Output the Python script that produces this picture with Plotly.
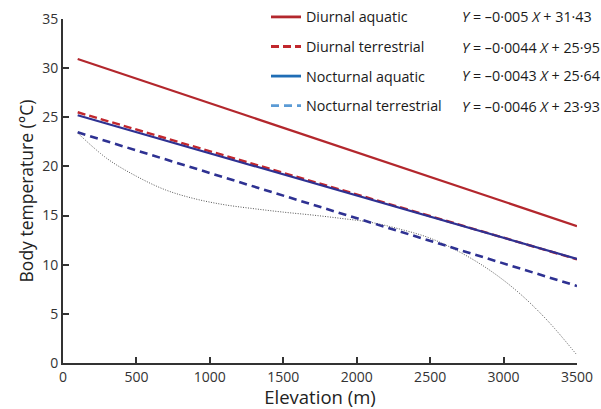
import plotly.graph_objects as go

# Regression fits: body temperature vs elevation
groups = ["Diurnal aquatic", "Diurnal terrestrial", "Nocturnal aquatic", "Nocturnal terrestrial"]
slopes = [-0.005, -0.0044, -0.0043, -0.0046]
intercepts = [31.43, 25.95, 25.64, 23.93]
equations = [
    "<i>Y</i> = \u20130\u00b7005 <i>X</i> + 31\u00b743",
    "<i>Y</i> = \u20130\u00b70044 <i>X</i> + 25\u00b795",
    "<i>Y</i> = \u20130\u00b70043 <i>X</i> + 25\u00b764",
    "<i>Y</i> = \u20130\u00b70046 <i>X</i> + 23\u00b793",
]
elev_range = [100, 3500]

# Ambient reference curve (dotted)
amb_elev = [100, 300, 500, 700, 900, 1100, 1300, 1500, 1700, 1900, 2100, 2300, 2500, 2700, 2900, 3100, 3300, 3500]
amb_temp = [23.4, 20.8, 19.0, 17.6, 16.7, 16.1, 15.7, 15.35, 15.05, 14.7, 14.3, 13.6, 12.7, 11.3, 9.5, 7.2, 4.3, 0.8]

x_ticks = [0, 500, 1000, 1500, 2000, 2500, 3000, 3500]
y_ticks = [0, 5, 10, 15, 20, 25, 30, 35]

plot_colors = ["#b3272d", "#c1272d", "#2e3192", "#2e3192"]
legend_colors = ["#b3272d", "#c1272d", "#1f6db5", "#5b9bd5"]
dashes = ["solid", "8px,4px", "solid", "8px,5px"]
widths = [2.2, 2.4, 2.2, 2.6]

FONT = "Open Sans, sans-serif"

fig = go.Figure()

fig.add_trace(go.Scatter(
    x=amb_elev, y=amb_temp, mode="lines", line_shape="spline",
    line=dict(color="#555555", width=1, dash="1px,1.5px"),
    showlegend=False, hoverinfo="skip",
))

for i, name in enumerate(groups):
    ys = [intercepts[i] + slopes[i] * x for x in elev_range]
    fig.add_trace(go.Scatter(
        x=elev_range, y=ys, mode="lines",
        line=dict(color=plot_colors[i], width=widths[i], dash=dashes[i]),
        showlegend=False,
    ))

# Legend entries
for i, name in enumerate(groups):
    fig.add_trace(go.Scatter(
        x=[None], y=[None], mode="lines", name=name, legendgroup=name,
        line=dict(color=legend_colors[i], width=2.8, dash=dashes[i]),
    ))

row_y = [17, 47, 76, 106]
for i, eq in enumerate(equations):
    fig.add_annotation(
        xref="paper", yref="paper",
        x=(460 - 63) / 514, y=1 - (row_y[i] - 19) / 344,
        text=eq, showarrow=False, xanchor="left", yanchor="middle",
        font=dict(family=FONT, size=14.3, color="#1a1a1a"),
    )

axis_common = dict(
    showgrid=False, zeroline=False, showline=True, linecolor="#333333", linewidth=2,
    ticks="inside", ticklen=6, tickwidth=2, tickcolor="#333333",
    tickfont=dict(family=FONT, size=14, color="#333333"),
)

fig.update_layout(
    width=601, height=409,
    margin=dict(l=63, r=24, t=19, b=46, autoexpand=False),
    paper_bgcolor="white", plot_bgcolor="white",
    font=dict(family=FONT, color="#222222"),
    xaxis=dict(range=[0, 3500], tickvals=x_ticks,
               title=dict(text="Elevation (m)", font=dict(size=18.5), standoff=2), **axis_common),
    yaxis=dict(range=[0, 35], tickvals=y_ticks,
               title=dict(text="Body temperature (\u00b0C)", font=dict(size=17.5), standoff=4), **axis_common),
    legend=dict(
        x=(266 - 63) / 514, y=1.052, xanchor="left", yanchor="top",
        bgcolor="rgba(0,0,0,0)", font=dict(family=FONT, size=14.3, color="#1a1a1a"),
        tracegroupgap=8, itemwidth=30,
    ),
    showlegend=True,
)

fig.write_html("out.html")
